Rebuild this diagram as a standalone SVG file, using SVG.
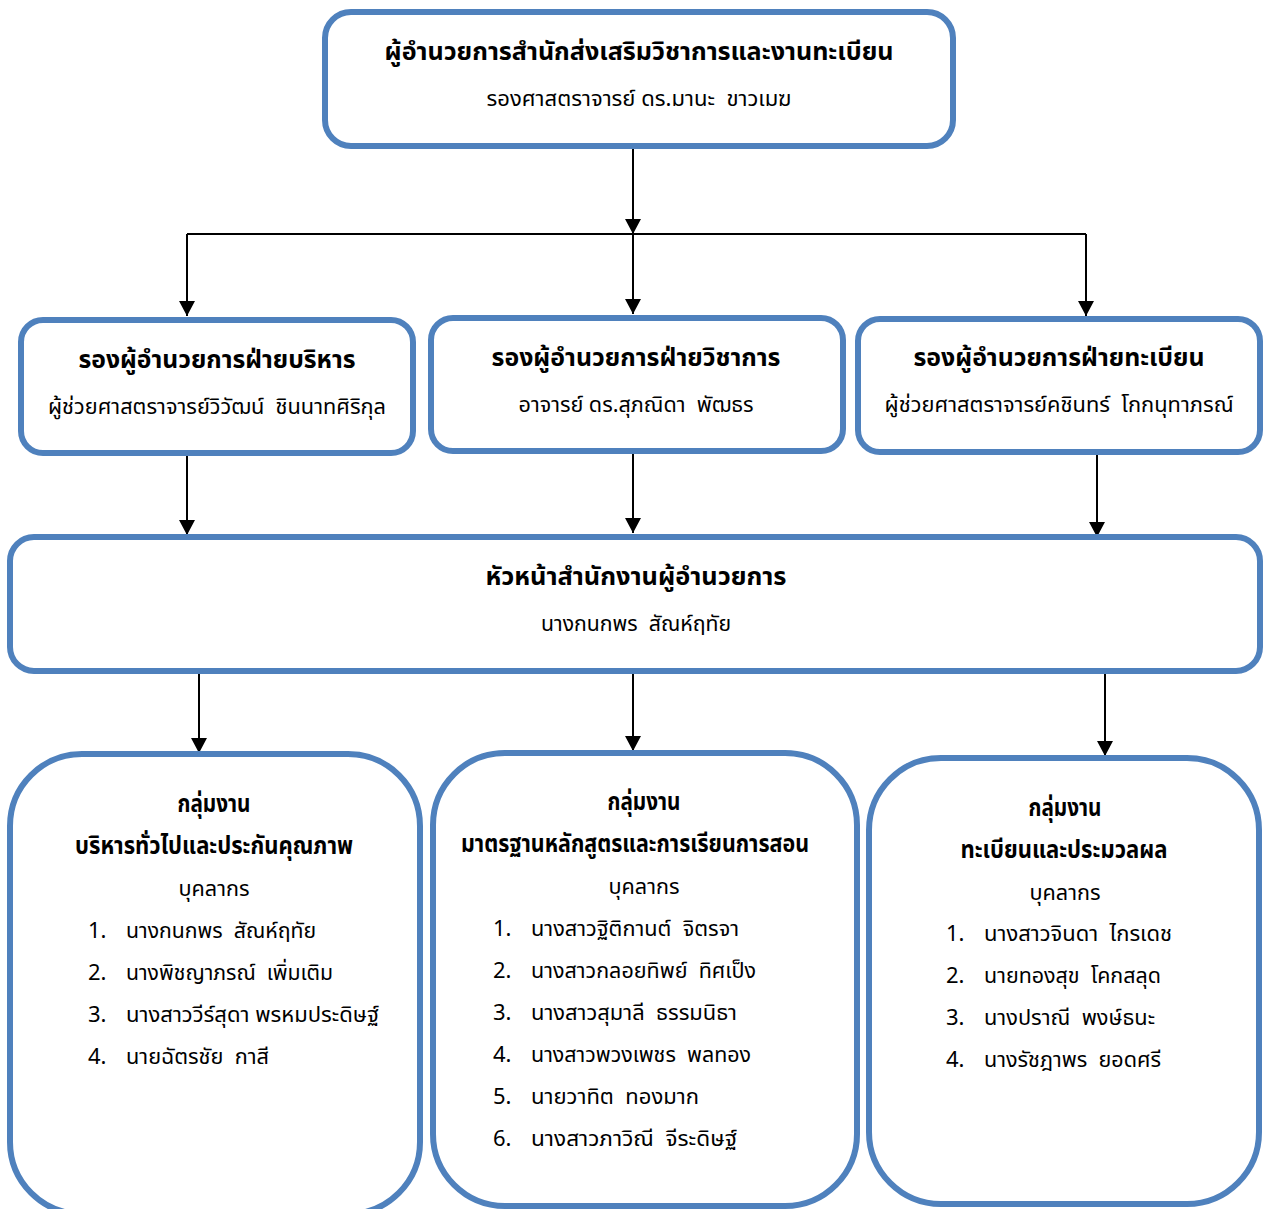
<svg xmlns="http://www.w3.org/2000/svg" width="1263" height="1209" viewBox="0 0 1263 1209">
<style>
.box{fill:#fff;stroke:#4F81BD;stroke-width:6}
.con{fill:none;stroke:#000;stroke-width:2}
text{font-family:"Noto Sans Thai","Noto Sans","DejaVu Sans",sans-serif;fill:#000;white-space:pre}
.b{font-weight:bold;font-size:24px;text-anchor:middle}
.r{font-size:22px;text-anchor:middle}
.l{font-size:22px}
</style>
<defs>
<marker id="ah" markerUnits="userSpaceOnUse" markerWidth="16" markerHeight="16" refX="15" refY="8" orient="auto">
<path d="M0,0 L15,8 L0,16 z" fill="#000"/>
</marker>
</defs>
<rect width="1263" height="1209" fill="#fff"/>
<g id="connectors">
<path class="con" d="M633,149 V234" marker-end="url(#ah)"/>
<path class="con" d="M187,234 H1086"/>
<path class="con" d="M187,234 V316" marker-end="url(#ah)"/>
<path class="con" d="M633,234 V314" marker-end="url(#ah)"/>
<path class="con" d="M1086,234 V316" marker-end="url(#ah)"/>
<path class="con" d="M187,455 V535" marker-end="url(#ah)"/>
<path class="con" d="M633,453 V533" marker-end="url(#ah)"/>
<path class="con" d="M1097,455 V537" marker-end="url(#ah)"/>
<path class="con" d="M199,673 V753" marker-end="url(#ah)"/>
<path class="con" d="M633,673 V751" marker-end="url(#ah)"/>
<path class="con" d="M1105,673 V756" marker-end="url(#ah)"/>
</g>
<g id="director">
<rect class="box" x="325" y="12" width="628" height="134" rx="26"/>
<text class="b" x="639" y="60" textLength="509" lengthAdjust="spacingAndGlyphs">ผู้อำนวยการสำนักส่งเสริมวิชาการและงานทะเบียน</text>
<text class="r" x="639" y="106" textLength="305" lengthAdjust="spacingAndGlyphs">รองศาสตราจารย์ ดร.มานะ  ขาวเมฆ</text>
</g>
<g id="deputy-admin">
<rect class="box" x="21" y="320" width="392" height="133" rx="22"/>
<text class="b" x="217" y="368" textLength="277" lengthAdjust="spacingAndGlyphs">รองผู้อำนวยการฝ่ายบริหาร</text>
<text class="r" x="217" y="414" textLength="338" lengthAdjust="spacingAndGlyphs">ผู้ช่วยศาสตราจารย์วิวัฒน์  ชินนาทศิริกุล</text>
</g>
<g id="deputy-academic">
<rect class="box" x="431" y="318" width="412" height="133" rx="22"/>
<text class="b" x="636" y="366" textLength="289" lengthAdjust="spacingAndGlyphs">รองผู้อำนวยการฝ่ายวิชาการ</text>
<text class="r" x="636" y="412" textLength="235" lengthAdjust="spacingAndGlyphs">อาจารย์ ดร.สุภณิดา  พัฒธร</text>
</g>
<g id="deputy-registrar">
<rect class="box" x="858" y="319" width="402" height="133" rx="22"/>
<text class="b" x="1059" y="366" textLength="291" lengthAdjust="spacingAndGlyphs">รองผู้อำนวยการฝ่ายทะเบียน</text>
<text class="r" x="1059" y="412" textLength="349" lengthAdjust="spacingAndGlyphs">ผู้ช่วยศาสตราจารย์คชินทร์  โกกนุทาภรณ์</text>
</g>
<g id="office-head">
<rect class="box" x="10" y="537" width="1250" height="134" rx="24"/>
<text class="b" x="636" y="585" textLength="301" lengthAdjust="spacingAndGlyphs">หัวหน้าสำนักงานผู้อำนวยการ</text>
<text class="r" x="636" y="631" textLength="190" lengthAdjust="spacingAndGlyphs">นางกนกพร  สัณห์ฤทัย</text>
</g>
<g id="group-admin">
<rect class="box" x="10" y="754" width="410" height="460" rx="72"/>
<text class="b" x="214" y="812" textLength="73" lengthAdjust="spacingAndGlyphs">กลุ่มงาน</text>
<text class="b" x="214" y="854" textLength="278" lengthAdjust="spacingAndGlyphs">บริหารทั่วไปและประกันคุณภาพ</text>
<text class="r" x="214" y="896" textLength="71" lengthAdjust="spacingAndGlyphs">บุคลากร</text>
<text class="l" x="88" y="938">1.</text><text class="l" x="126" y="938" textLength="190" lengthAdjust="spacingAndGlyphs">นางกนกพร  สัณห์ฤทัย</text>
<text class="l" x="88" y="980">2.</text><text class="l" x="126" y="980" textLength="207" lengthAdjust="spacingAndGlyphs">นางพิชญาภรณ์  เพิ่มเติม</text>
<text class="l" x="88" y="1022">3.</text><text class="l" x="126" y="1022" textLength="253" lengthAdjust="spacingAndGlyphs">นางสาววีร์สุดา พรหมประดิษฐ์</text>
<text class="l" x="88" y="1064">4.</text><text class="l" x="126" y="1064" textLength="143" lengthAdjust="spacingAndGlyphs">นายฉัตรชัย  กาสี</text>
</g>
<g id="group-curriculum">
<rect class="box" x="433" y="753" width="424" height="453" rx="72"/>
<text class="b" x="644" y="810" textLength="73" lengthAdjust="spacingAndGlyphs">กลุ่มงาน</text>
<text class="b" x="635" y="852" textLength="348" lengthAdjust="spacingAndGlyphs">มาตรฐานหลักสูตรและการเรียนการสอน</text>
<text class="r" x="644" y="894" textLength="71" lengthAdjust="spacingAndGlyphs">บุคลากร</text>
<text class="l" x="493" y="936">1.</text><text class="l" x="531" y="936" textLength="208" lengthAdjust="spacingAndGlyphs">นางสาวฐิติกานต์  จิตรจา</text>
<text class="l" x="493" y="978">2.</text><text class="l" x="531" y="978" textLength="225" lengthAdjust="spacingAndGlyphs">นางสาวกลอยทิพย์  ทิศเป็ง</text>
<text class="l" x="493" y="1020">3.</text><text class="l" x="531" y="1020" textLength="206" lengthAdjust="spacingAndGlyphs">นางสาวสุมาลี  ธรรมนิธา</text>
<text class="l" x="493" y="1062">4.</text><text class="l" x="531" y="1062" textLength="220" lengthAdjust="spacingAndGlyphs">นางสาวพวงเพชร  พลทอง</text>
<text class="l" x="493" y="1104">5.</text><text class="l" x="531" y="1104" textLength="168" lengthAdjust="spacingAndGlyphs">นายวาทิต  ทองมาก</text>
<text class="l" x="493" y="1146">6.</text><text class="l" x="531" y="1146" textLength="206" lengthAdjust="spacingAndGlyphs">นางสาวภาวิณี  จีระดิษฐ์</text>
</g>
<g id="group-registration">
<rect class="box" x="869" y="758" width="390" height="446" rx="72"/>
<text class="b" x="1065" y="816" textLength="73" lengthAdjust="spacingAndGlyphs">กลุ่มงาน</text>
<text class="b" x="1064" y="858" textLength="207" lengthAdjust="spacingAndGlyphs">ทะเบียนและประมวลผล</text>
<text class="r" x="1065" y="900" textLength="71" lengthAdjust="spacingAndGlyphs">บุคลากร</text>
<text class="l" x="946" y="941">1.</text><text class="l" x="984" y="941" textLength="188" lengthAdjust="spacingAndGlyphs">นางสาวจินดา  ไกรเดช</text>
<text class="l" x="946" y="983">2.</text><text class="l" x="984" y="983" textLength="177" lengthAdjust="spacingAndGlyphs">นายทองสุข  โคกสลุด</text>
<text class="l" x="946" y="1025">3.</text><text class="l" x="984" y="1025" textLength="171" lengthAdjust="spacingAndGlyphs">นางปราณี  พงษ์ธนะ</text>
<text class="l" x="946" y="1067">4.</text><text class="l" x="984" y="1067" textLength="177" lengthAdjust="spacingAndGlyphs">นางรัชฎาพร  ยอดศรี</text>
</g>
</svg>
